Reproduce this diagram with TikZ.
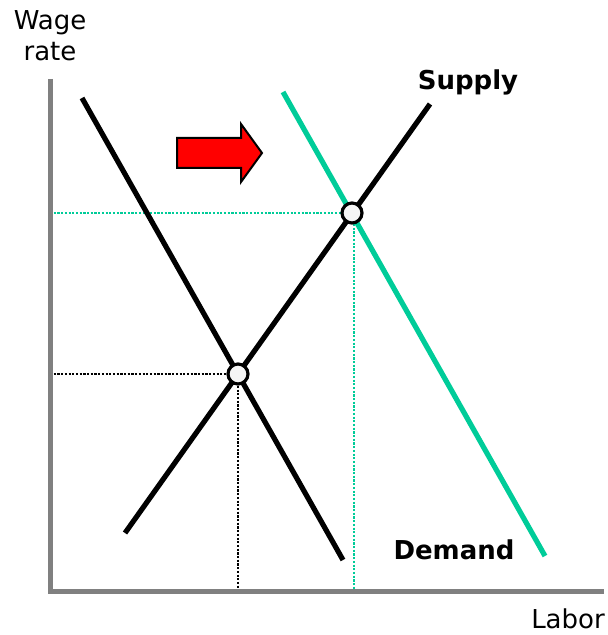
\documentclass[tikz,border=0pt]{standalone}
\usepackage{fontspec}
\setmainfont{DejaVu Sans}
\usetikzlibrary{calc}
\definecolor{shiftgreen}{RGB}{0,204,153}
\definecolor{axisgray}{RGB}{128,128,128}
\definecolor{pointfill}{RGB}{245,245,245}

\begin{document}
\begin{tikzpicture}[
  x=0.5pt, y=-0.5pt,
  axis/.style={draw=axisgray, line width=2.5pt, line join=miter},
  curve/.style={line width=2.6pt},
  guide/.style={line width=1.1pt, dash pattern=on 1.1pt off 0.75pt},
  eqpoint/.style={draw, circle, line width=1.6pt, fill=pointfill, minimum size=10pt, inner sep=0pt},
  lbl/.style={font=\fontsize{13}{15.5}\selectfont, align=center, inner sep=0pt},
  >=latex
]
\useasboundingbox (0,0) rectangle (608,635);

% equilibrium points
\coordinate (old) at (238,374);
\coordinate (new) at (352,213);

% guide lines to the axes
\draw[guide] (50,374) -- (old) -- (238,591);
\draw[guide, shiftgreen] (50,213) -- (new);
\draw[guide, shiftgreen] (354,213) -- (354,591);

% curves
\draw[curve] (82,98) -- (343,560);
\draw[curve, shiftgreen] (283,92) -- (545,556);
\draw[curve] (125,533) -- (430,104);

% axes
\draw[axis] (50,79) |- (604,591);

\node[eqpoint] (p1) at (old) {};
\node[eqpoint] (p2) at (new) {};

% shift arrow
\draw[fill=red, line width=1pt, line join=miter] (177,138) -- (241,138) -- (241,124) -- (262,153)
  -- (241,182) -- (241,168) -- (177,168) -- cycle;

% labels
\node[lbl] (wage) at (50,36) {Wage\\rate};
\node[lbl] (labor) at (568,619) {Labor};
\node[lbl, font=\fontsize{13}{15.5}\selectfont\bfseries] (supply) at (468,82) {Supply};
\node[lbl, font=\fontsize{13}{15.5}\selectfont\bfseries] (demand) at (454,550) {Demand};
\end{tikzpicture}
\end{document}
